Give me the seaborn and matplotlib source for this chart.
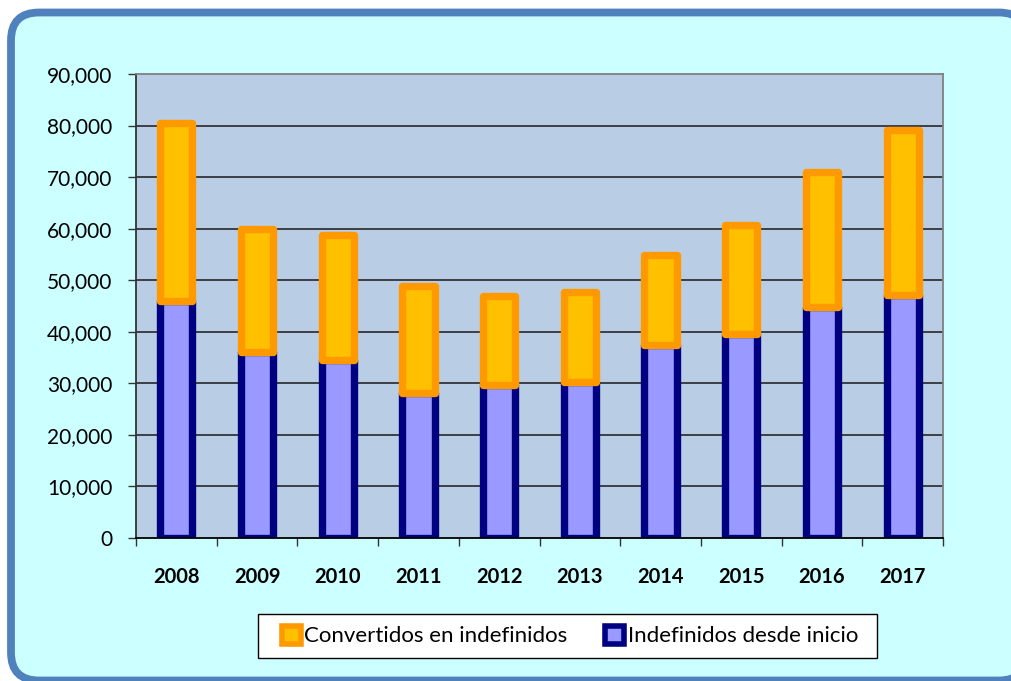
import matplotlib
matplotlib.use("Agg")
import matplotlib.pyplot as plt
import seaborn as sns
import numpy as np
import pandas as pd
from matplotlib.patches import FancyBboxPatch, Patch, Rectangle
from matplotlib.ticker import FuncFormatter, MultipleLocator, FixedLocator

years = ["2008", "2009", "2010", "2011", "2012", "2013", "2014", "2015", "2016", "2017"]
indefinidos_inicio = [45900, 36000, 34600, 28200, 29600, 30200, 37500, 39600, 44800, 47200]
convertidos = [34500, 23900, 24200, 20700, 17300, 17600, 17300, 21200, 26100, 31900]
legend_labels = ["Convertidos en indefinidos", "Indefinidos desde inicio"]

sns.set_theme(style="white")
plt.rcParams["font.family"] = ["Lato", "DejaVu Sans"]

df = pd.DataFrame({"year": years, "inicio": indefinidos_inicio, "conv": convertidos})

fig = plt.figure(figsize=(10.12, 6.81), dpi=100)
fig.patch.set_facecolor("white")
bg = FancyBboxPatch((0.11, 0.005), 10.16, 6.68,
                    boxstyle="round,pad=0,rounding_size=0.28",
                    transform=fig.dpi_scale_trans, facecolor="#CCFFFF",
                    edgecolor="#4F81BD", linewidth=5.6, zorder=-5)
fig.patches.append(bg)
legframe = Rectangle((258 / 1012, 1 - 658 / 681), 619 / 1012, 44 / 681,
                     transform=fig.transFigure, facecolor="white",
                     edgecolor="black", linewidth=1.0, zorder=-4)
fig.patches.append(legframe)

ax = fig.add_axes([136 / 1012, 1 - 538 / 681, 807 / 1012, 464 / 681])
ax.set_zorder(2)
ax.set_facecolor("#B9CDE5")

sns.barplot(data=df, x="year", y="inicio", ax=ax, color="#9999FF", saturation=1,
            edgecolor="#000080", linewidth=5.3, width=0.40, zorder=3)
sns.barplot(data=df, x="year", y="conv", ax=ax, color="#FFC000", saturation=1,
            edgecolor="#FF9900", linewidth=5.3, width=0.40, zorder=4,
            bottom=np.array(indefinidos_inicio))
for p in ax.patches:
    p.set_joinstyle("round")

ax.set_ylim(0, 90000)
ax.set_xlim(-0.5, 9.5)
ax.yaxis.set_major_locator(MultipleLocator(10000))
ax.yaxis.set_major_formatter(FuncFormatter(lambda v, p: f"{int(v):,}"))
for yv in range(10000, 90000, 10000):
    ax.axhline(yv, color="#1a1a1a", linewidth=1.1, zorder=1)

ax.set_xlabel("")
ax.set_ylabel("")
ax.tick_params(axis="y", which="major", left=True, length=6, width=1, color="#333333",
               labelsize=15, labelcolor="black", pad=11)
ax.xaxis.set_minor_locator(FixedLocator(np.arange(-0.5, 10, 1)))
ax.tick_params(axis="x", which="major", bottom=False, length=0, labelsize=14.5,
               labelcolor="black", pad=21)
ax.tick_params(axis="x", which="minor", bottom=True, length=6, width=1, color="#333333")
for lab in ax.get_xticklabels():
    lab.set_fontweight("bold")

ax.spines["left"].set_color("#333333")
ax.spines["bottom"].set_color("#000000")
ax.spines["top"].set_color("#808080")
ax.spines["right"].set_color("#808080")
for s in ax.spines.values():
    s.set_linewidth(1.3)
    s.set_visible(True)
    s.set_zorder(5)

handles = [Patch(facecolor="#FFC000", edgecolor="#FF9900", linewidth=4),
           Patch(facecolor="#9999FF", edgecolor="#000080", linewidth=4)]
leg = fig.legend(handles, legend_labels, loc="center", ncol=2,
                 bbox_to_anchor=(570 / 1012, 1 - 636 / 681), frameon=False,
                 fontsize=16, handlelength=0.85, handleheight=0.9, handletextpad=0.15,
                 columnspacing=1.7, borderpad=0.3, borderaxespad=0, labelcolor="black")

fig.savefig("out.png", dpi=100)
